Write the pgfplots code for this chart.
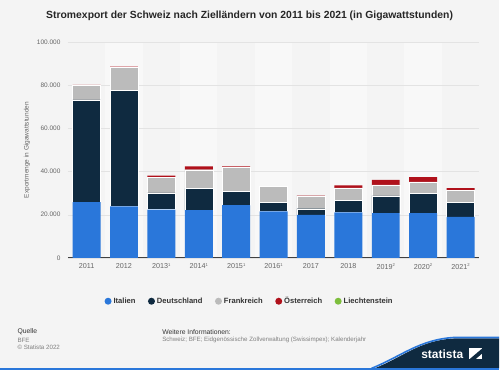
\documentclass[border=0pt]{standalone}
\usepackage{pgfplots}
\pgfplotsset{compat=1.18}
\usepackage{fontspec}
\setmainfont{Liberation Sans}
\definecolor{bg}{HTML}{F4F4F4}
\definecolor{band}{HTML}{F8F8F8}
\definecolor{cIT}{HTML}{2A77DA}
\definecolor{cDE}{HTML}{0F2A40}
\definecolor{cFR}{HTML}{BBBBBB}
\definecolor{cAT}{HTML}{B0111B}
\definecolor{cLI}{HTML}{7DBE3C}
\definecolor{tick}{HTML}{666666}
\definecolor{navy}{HTML}{0F2A40}
\definecolor{sblue}{HTML}{2A77DA}
\newcommand{\fnsup}[1]{\raisebox{2.2pt}{\fontsize{4.2}{4.2}\selectfont #1}}
\begin{document}
\begin{tikzpicture}[x=1pt,y=1pt]
\fill[bg] (0,0) rectangle (500,371);
% alternating bands
\foreach \i in {1,3,5,7,9} {
  \fill[band] ({68+37.45*\i},112.7) rectangle ({68+37.45*(\i+1)},328.7);
}
\begin{axis}[
  at={(68pt,112.7pt)}, anchor=south west,
  scale only axis, width=412pt, height=216pt,
  ybar stacked, bar width=28pt,
  xmin=-0.5, xmax=10.5, ymin=0, ymax=100000,
  xtick={0,...,10},
  xticklabels={2011,2012,2013\fnsup{1},2014\fnsup{1},2015\fnsup{1},2016\fnsup{1},2017,2018,2019\fnsup{2},2020\fnsup{2},2021\fnsup{2}},
  ytick={0,20000,40000,60000,80000,100000},
  /pgf/number format/fixed,
  /pgf/number format/1000 sep={.},
  /pgf/number format/assume math mode=true,
  scaled y ticks=false,
  yticklabel style={font=\fontsize{6.5}{7}\selectfont, text=tick, xshift=-4pt},
  xticklabel style={font=\fontsize{7.2}{8}\selectfont, text=tick, yshift=-2.5pt},
  major tick length=0pt,
  axis x line*=bottom, axis y line*=left,
  y axis line style={draw=none},
  x axis line style={draw=black!75, line width=0.8pt},
  ymajorgrids, grid style={draw=black!11, line width=0.4pt},
  ylabel={Exportmenge in Gigawattstunden},
  every axis y label/.style={at={(axis description cs:0,0.5)}, xshift=-41pt, rotate=90, anchor=center,
    font=\fontsize{6.5}{7}\selectfont, text=tick},
  legend style={at={(0.4417,-0.201)}, anchor=center, legend columns=5, draw=none, fill=none,
    font=\bfseries\fontsize{7.6}{9}\selectfont, text=black!80,
    /tikz/every even column/.append style={column sep=10.5pt}},
  legend image code/.code={\fill[#1,draw=none] (0pt,0pt) circle (3.5pt);},
  clip=false,
]
\addplot[fill=cIT, draw=none] coordinates {(0,25900) (1,23900) (2,22400) (3,22200) (4,24500) (5,21600) (6,19900) (7,21100) (8,20800) (9,20800) (10,19000)};
\addplot[fill=cDE, draw=white, line width=0.35pt] coordinates {(0,47400) (1,53700) (2,7700) (3,10000) (4,6300) (5,4100) (6,2900) (7,5600) (8,8000) (9,9000) (10,6700)};
\addplot[fill=cFR, draw=white, line width=0.35pt] coordinates {(0,6600) (1,10800) (2,7100) (3,8700) (4,11100) (5,7400) (6,6000) (7,5800) (8,5100) (9,5500) (10,5600)};
\addplot[fill=cAT, draw=none] coordinates {(0,300) (1,300) (2,900) (3,1500) (4,500) (5,100) (6,100) (7,1100) (8,2300) (9,2200) (10,1100)};
\addplot[fill=cLI, draw=none] coordinates {(0,0) (1,0) (2,0) (3,0) (4,0) (5,0) (6,0) (7,0) (8,0) (9,0) (10,0)};
\legend{Italien,Deutschland,Frankreich,Österreich,Liechtenstein}
\end{axis}
% title
\node[font=\bfseries\fontsize{10.4}{12}\selectfont, text=black!85] at (250,355.5) {Stromexport der Schweiz nach Zielländern von 2011 bis 2021 (in Gigawattstunden)};
% footer
\node[anchor=west, font=\fontsize{6.8}{8}\selectfont, text=black!80] at (14,38.5) {Quelle};
\node[anchor=west, font=\fontsize{6.2}{7}\selectfont, text=black!50] at (14,30.5) {BFE};
\node[anchor=west, font=\fontsize{6.2}{7}\selectfont, text=black!50] at (14,23) {© Statista 2022};
\node[anchor=west, font=\fontsize{6.8}{8}\selectfont, text=black!80] at (159,38.5) {Weitere Informationen:};
\node[anchor=west, font=\fontsize{6.2}{7}\selectfont, text=black!50] at (159,30.5) {Schweiz; BFE; Eidgenössische Zollverwaltung (Swissimpex); Kalenderjahr};
% logo wave
\fill[navy] (375,2) .. controls (405,14) and (420,30) .. (455,32) -- (500,32) -- (500,2) -- cycle;
\draw[sblue, line width=1.6pt] (372,2) .. controls (402,14) and (420,31) .. (455,33) -- (500,33);
\fill[sblue] (0,0) rectangle (500,2.2);
\node[text=white, font=\bfseries\fontsize{12}{13}\selectfont] at (443,16) {statista};
\fill[white] (470,11) rectangle (483,22);
\fill[navy] (470,11) -- (483,22) -- (483,17) -- (476,11) -- cycle;
\end{tikzpicture}
\end{document}
